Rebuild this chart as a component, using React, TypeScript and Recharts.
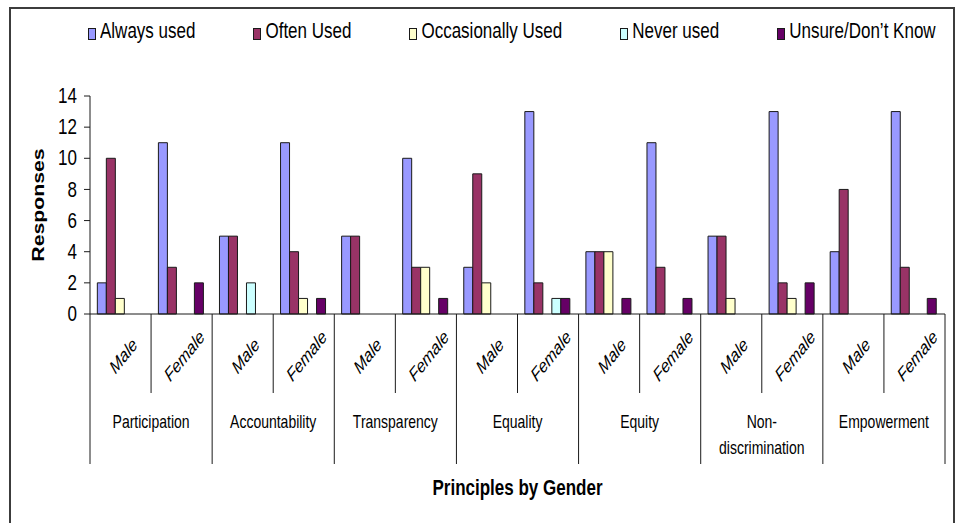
import React from 'react';
import { BarChart, Bar, XAxis, YAxis, Legend, Label } from 'recharts';

// ---- data ----
const principles = ['Participation', 'Accountability', 'Transparency', 'Equality', 'Equity', 'Non-discrimination', 'Empowerment'];
const genders = ['Male', 'Female'];
const seriesNames = ['Always used', 'Often Used', 'Occasionally Used', 'Never used', 'Unsure/Don\u2019t Know'];
const alwaysUsed = [2, 11, 5, 11, 5, 10, 3, 13, 4, 11, 5, 13, 4, 13];
const oftenUsed = [10, 3, 5, 4, 5, 3, 9, 2, 4, 3, 5, 2, 8, 3];
const occasionallyUsed = [1, 0, 0, 1, 0, 3, 2, 0, 4, 0, 1, 1, 0, 0];
const neverUsed = [0, 0, 2, 0, 0, 0, 0, 1, 0, 0, 0, 0, 0, 0];
const unsure = [0, 2, 0, 1, 0, 1, 0, 1, 1, 1, 0, 2, 0, 1];
const yTicks = [0, 2, 4, 6, 8, 10, 12, 14];
const yLabel = 'Responses';
const xLabel = 'Principles by Gender';

// ---- style ----
const seriesKeys = ['always', 'often', 'occasionally', 'never', 'unsure'];
const seriesColors = ['#9999FF', '#993366', '#FFFFCC', '#CCFFFF', '#660066'];
const W = 959;
const H = 523;
const PLOT_LEFT = 90;
const PLOT_RIGHT = 945;
const PLOT_TOP = 96;
const PLOT_BOTTOM = 314;
const Y_AXIS_W = 60;
const X_AXIS_H = 190;
const BAND = (PLOT_RIGHT - PLOT_LEFT) / (principles.length * genders.length);
const SY = 1.25;
const FONT = '"Liberation Sans", Arial, Helvetica, sans-serif';
const INK = '#1a1a1a';

const seriesValues = [alwaysUsed, oftenUsed, occasionallyUsed, neverUsed, unsure];

const data = principles.flatMap((p, pi) =>
  genders.map((g, gi) => {
    const i = pi * genders.length + gi;
    const row: any = { key: `${p}|${g}`, principle: p, gender: g, gi };
    seriesKeys.forEach((k, si) => {
      row[k] = seriesValues[si][i];
    });
    return row;
  })
);

function XTick(props: any) {
  const { x, index } = props;
  const row = data[index];
  if (!row) return null;
  const top = PLOT_BOTTOM;
  const shortBottom = 393;
  const longBottom = 464;
  const rightX = x + BAND / 2;
  const isLast = row.gi === genders.length - 1;
  const lines = String(row.principle).split(/(?<=-)/);
  return (
    <g>
      {index === 0 && (
        <line x1={x - BAND / 2} x2={x - BAND / 2} y1={top} y2={longBottom} stroke={INK} strokeWidth={1} />
      )}
      <line x1={rightX} x2={rightX} y1={top} y2={isLast ? longBottom : shortBottom} stroke={INK} strokeWidth={1} />
      <text
        transform={`translate(${x + 3},${356}) scale(1,${SY}) rotate(-45)`}
        textAnchor="middle"
        dominantBaseline="central"
        fontFamily={FONT}
        fontStyle="italic"
        fontSize={15}
        fill="#000"
      >
        {row.gender}
      </text>
      {isLast &&
        lines.map((ln: string, li: number) => (
          <text
            key={li}
            transform={`translate(${x - BAND / 2},${422 + li * 26}) scale(1,${SY})`}
            textAnchor="middle"
            dominantBaseline="central"
            fontFamily={FONT}
            fontSize={14}
            fill="#000"
          >
            {ln}
          </text>
        ))}
    </g>
  );
}

function YTick(props: any) {
  const { x, y, payload } = props;
  return (
    <text
      transform={`translate(${x},${y}) scale(1,${SY})`}
      textAnchor="end"
      dominantBaseline="central"
      fontFamily={FONT}
      fontSize={17}
      fill="#000"
    >
      {payload.value}
    </text>
  );
}

function LegendContent() {
  return (
    <div style={{ display: 'flex', alignItems: 'center', gap: 58, height: 20, fontFamily: FONT, whiteSpace: 'nowrap' }}>
      {seriesNames.map((n, i) => (
        <div key={n} style={{ display: 'flex', alignItems: 'center' }}>
          <div
            style={{
              width: 8,
              height: 12,
              background: seriesColors[i],
              border: `1px solid ${INK}`,
              marginRight: 4,
              marginTop: 3,
              boxSizing: 'border-box',
            }}
          />
          <span style={{ fontSize: 17, color: '#000', display: 'inline-block', transform: `scaleY(${SY})`, lineHeight: '20px' }}>
            {n}
          </span>
        </div>
      ))}
    </div>
  );
}

export default function App() {
  return (
    <div style={{ position: 'absolute', left: 0, top: 0, width: W, height: H, overflow: 'hidden', background: '#fff' }}>
      <div
        style={{
          position: 'absolute',
          left: 9,
          top: 7,
          width: 946,
          height: 560,
          border: '2px solid #3c3c3c',
          boxSizing: 'border-box',
          pointerEvents: 'none',
        }}
      />
      <BarChart
        width={W}
        height={H}
        data={data}
        margin={{
          top: PLOT_TOP,
          right: W - PLOT_RIGHT,
          bottom: H - PLOT_BOTTOM - X_AXIS_H,
          left: PLOT_LEFT - Y_AXIS_W,
        }}
        barCategoryGap="12%"
        barGap={0}
      >
        <XAxis
          dataKey="key"
          interval={0}
          height={X_AXIS_H}
          tickLine={false}
          axisLine={{ stroke: INK, strokeWidth: 1 }}
          tick={<XTick />}
        >
          <Label
            content={() => (
              <text
                transform={`translate(${(PLOT_LEFT + PLOT_RIGHT) / 2},${488}) scale(1,${SY})`}
                textAnchor="middle"
                dominantBaseline="central"
                fontFamily={FONT}
                fontWeight="bold"
                fontSize={17}
                fill="#000"
              >
                {xLabel}
              </text>
            )}
          />
        </XAxis>
        <YAxis
          width={Y_AXIS_W}
          domain={[0, 14]}
          ticks={yTicks}
          interval={0}
          tickSize={6}
          tickMargin={7}
          tickLine={{ stroke: INK, strokeWidth: 1 }}
          axisLine={{ stroke: INK, strokeWidth: 1 }}
          tick={<YTick />}
        >
          <Label
            content={() => (
              <text
                transform={`translate(${38},${(PLOT_TOP + PLOT_BOTTOM) / 2}) rotate(-90) scale(${SY},1)`}
                textAnchor="middle"
                dominantBaseline="central"
                fontFamily={FONT}
                fontWeight="bold"
                fontSize={17}
                fill="#000"
              >
                {yLabel}
              </text>
            )}
          />
        </YAxis>
        <Legend
          layout="horizontal"
          verticalAlign="middle"
          align="center"
          wrapperStyle={{ left: 88, top: 22, width: 'auto', height: 20 }}
          content={<LegendContent />}
        />
        {seriesKeys.map((k, i) => (
          <Bar
            key={k}
            dataKey={k}
            name={seriesNames[i]}
            fill={seriesColors[i]}
            stroke={INK}
            strokeWidth={1}
            isAnimationActive={false}
          />
        ))}
      </BarChart>
    </div>
  );
}
